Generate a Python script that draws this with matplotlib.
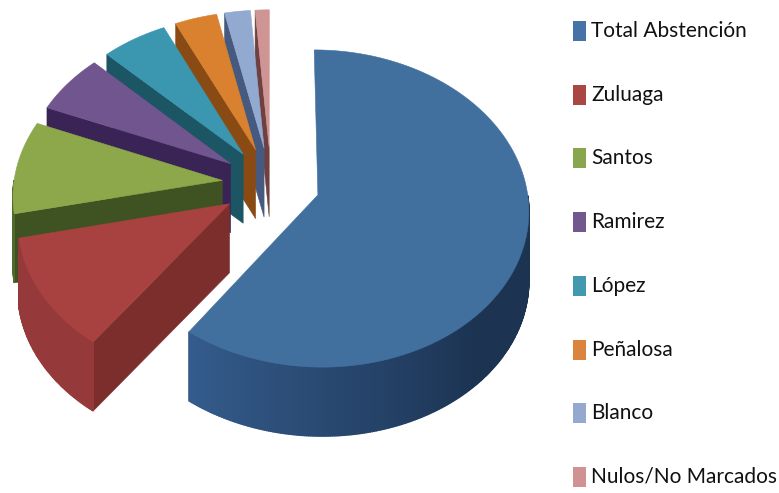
"""3D exploded pie of the 2014 vote with abstention, drawn as projected polygons."""

import numpy as np
import matplotlib

matplotlib.use("Agg")
import matplotlib.pyplot as plt
from matplotlib.colors import to_rgb
from matplotlib.patches import Rectangle

labels = ["Total Abstención", "Zuluaga", "Santos", "Ramirez", "López", "Peñalosa", "Blanco", "Nulos/No Marcados"]
values = [60.0, 11.6, 9.6, 6.2, 5.6, 3.6, 2.2, 1.2]

top_colors = ["#41709F", "#A84240", "#8CA84A", "#71558F", "#3B96AF", "#D9812F", "#92A9D0", "#CF9594"]
wall_colors = ["#1C3352", "#7C2E2D", "#3F5222", "#3A2455", "#1C5564", "#8A4A14", "#465A80", "#704040"]
rim_colors = ["#345C8C", "#96393A", "#4F6A2A", "#4A3468", "#266B7E", "#A05A1C", "#566C94", "#8A5454"]
legend_colors = ["#4572A7", "#AA4643", "#89A54E", "#71588F", "#4198AF", "#DB843D", "#93A9CF", "#D19392"]

# projection of the unit disc on the canvas, in pixels
CX, CY = 271, 183.6
RX, RY, PERSP = 208.5, 155.5, 0.085
EXPLODE = 0.235
DEPTH = 69


def project(x, y):
    w = 1 + PERSP * y
    return CX + RX * x / w, CY - RY * y / w


def mix(c1, c2, t):
    return tuple((1 - t) * a + t * b for a, b in zip(to_rgb(c1), to_rgb(c2)))


def rim_shade(i, th):
    # the big slice gets darker going round to the right
    if i == 0:
        t = np.clip((216 - th) / 80, 0, 1)
        return mix(rim_colors[0], wall_colors[0], t)
    return rim_colors[i]


def draw_slice(ax, i, start, end):
    mid = np.radians((start + end) / 2)
    ox, oy = EXPLODE * np.sin(mid), EXPLODE * np.cos(mid)
    n = max(int(end - start), 3) * 2
    th = np.radians(np.linspace(start, end, n))
    xs, ys = ox + np.sin(th), oy + np.cos(th)
    px, py = project(xs, ys)
    ax0, ay0 = project(ox, oy)

    # cut faces, only the ones turned to the viewer
    for ang, visible in ((start, np.sin(np.radians(start)) < -1e-6), (end, np.sin(np.radians(end)) > 1e-6)):
        if not visible:
            continue
        ex, ey = project(ox + np.sin(np.radians(ang)), oy + np.cos(np.radians(ang)))
        ax.fill([ax0, ex, ex, ax0], [ay0, ey, ey + DEPTH, ay0 + DEPTH],
                color=wall_colors[i], lw=0.4, zorder=i * -10 + 1)

    # outer rim, in small strips
    for k in range(n - 1):
        if np.cos(th[k]) + np.cos(th[k + 1]) > 0:
            continue
        ax.fill([px[k], px[k + 1], px[k + 1], px[k]],
                [py[k], py[k + 1], py[k + 1] + DEPTH, py[k] + DEPTH],
                color=rim_shade(i, np.degrees(th[k])), lw=1.0, zorder=i * -10 + 1)

    ax.fill(np.r_[ax0, px], np.r_[ay0, py], color=top_colors[i], lw=0.4, zorder=i * -10 + 2)


fig = plt.figure(figsize=(7.79, 4.93), dpi=100)
ax = fig.add_axes([0, 0, 1, 1])
ax.set_xlim(0, 779)
ax.set_ylim(493, 0)
ax.axis("off")

edges = np.r_[0, np.cumsum(values)] * 360 / sum(values)
for i in range(len(values)):
    draw_slice(ax, i, edges[i], edges[i + 1])

# legend
for i, name in enumerate(labels):
    yc = 31 + i * 63.7
    ax.add_patch(Rectangle((573, yc - 10), 13, 20, color=legend_colors[i], lw=0))
    ax.text(591, yc, name, fontsize=15, va="center", ha="left", color="#111111", family="Lato")

fig.savefig("out.png", dpi=100)
